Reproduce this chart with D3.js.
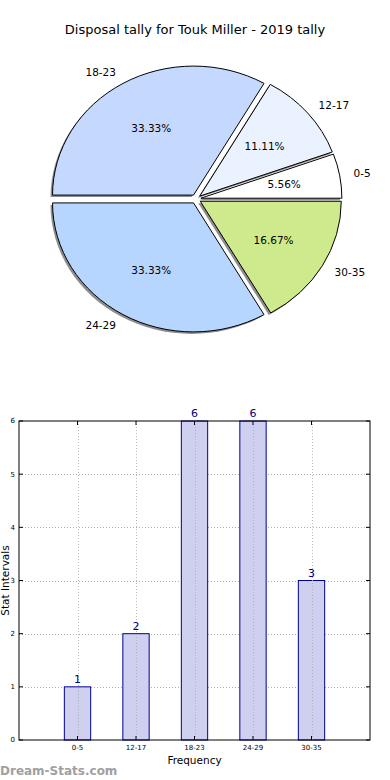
<!DOCTYPE html>
<html>
<head>
<meta charset="utf-8">
<script src="https://cdn.jsdelivr.net/npm/d3@7"></script>
<style>
  body { margin: 0; background: #fff; }
  svg { display: block; font-family: "DejaVu Sans", sans-serif; }
</style>
</head>
<body>
<script>
// Chart data
const title = "Disposal tally for Touk Miller - 2019 tally";
const categories = ["0-5", "12-17", "18-23", "24-29", "30-35"];
const counts = [1, 2, 6, 6, 3];
const sliceColors = ["#ffffff", "#eaf2ff", "#c5d9ff", "#b6d6ff", "#ceea8c"];
const yTicks = [0, 1, 2, 3, 4, 5, 6];

const width = 390, height = 780;

const svg = d3.select("body").append("svg")
    .attr("width", width)
    .attr("height", height);

svg.append("text")
    .attr("x", 195)
    .attr("y", 34)
    .attr("text-anchor", "middle")
    .attr("font-size", "13px")
    .text(title);

// ---- pie ----
const cx = 196, cy = 199;
const rx = 141, ry = 129;   // axes aspect squashes the pie a little
const explode = 0.035;
const total = d3.sum(counts);

// matplotlib starts at 3 o'clock and goes counter-clockwise
const pie = d3.pie().sort(null)
    .startAngle(Math.PI / 2)
    .endAngle(Math.PI / 2 - 2 * Math.PI);
const arcs = pie(counts);
const arcGen = d3.arc().innerRadius(0).outerRadius(1);

function dir(d) {
    const a = (d.startAngle + d.endAngle) / 2;
    return [Math.sin(a), -Math.cos(a)];
}

const pieG = svg.append("g");

// shadows first, under all wedges
pieG.append("g")
    .selectAll("path")
    .data(arcs)
    .join("path")
    .attr("transform", d => {
        const [ux, uy] = dir(d);
        return `translate(${cx + ux * rx * explode - 2},${cy + uy * ry * explode + 2}) scale(${rx},${ry})`;
    })
    .attr("d", arcGen)
    .attr("fill", "#707070")
    .attr("fill-opacity", 0.8);

pieG.append("g")
    .selectAll("path")
    .data(arcs)
    .join("path")
    .attr("transform", d => {
        const [ux, uy] = dir(d);
        return `translate(${cx + ux * rx * explode},${cy + uy * ry * explode}) scale(${rx},${ry})`;
    })
    .attr("d", arcGen)
    .attr("fill", (d, i) => sliceColors[i])
    .attr("stroke", "#000")
    .attr("stroke-width", 1)
    .attr("vector-effect", "non-scaling-stroke")
    .attr("stroke-linejoin", "round");

// percentage labels
pieG.append("g")
    .selectAll("text")
    .data(arcs)
    .join("text")
    .attr("x", d => cx + dir(d)[0] * rx * (0.6 + explode))
    .attr("y", d => cy + dir(d)[1] * ry * (0.6 + explode))
    .attr("dy", "0.35em")
    .attr("text-anchor", "middle")
    .attr("font-size", "10.5px")
    .text(d => (d.data / total * 100).toFixed(2) + "%");

// category labels
pieG.append("g")
    .selectAll("text")
    .data(arcs)
    .join("text")
    .attr("x", d => cx + dir(d)[0] * rx * (1.1 + explode))
    .attr("y", d => cy + dir(d)[1] * ry * (1.1 + explode))
    .attr("dy", "0.35em")
    .attr("text-anchor", d => dir(d)[0] < 0 ? "end" : "start")
    .attr("font-size", "10.5px")
    .text((d, i) => categories[i]);

// ---- bar chart ----
const plotLeft = 19, plotRight = 370, plotTop = 421, plotBottom = 740;
const x = d3.scaleLinear().domain([-1, categories.length]).range([plotLeft, plotRight]);
const y = d3.scaleLinear().domain([0, 6]).range([plotBottom, plotTop]);
const barW = 0.45;

const barG = svg.append("g");

// horizontal grid
barG.append("g")
    .selectAll("line")
    .data(yTicks.slice(1, -1))
    .join("line")
    .attr("x1", plotLeft).attr("x2", plotRight)
    .attr("y1", d => Math.round(y(d)) + 0.5).attr("y2", d => Math.round(y(d)) + 0.5)
    .attr("stroke", "#b0b0b0")
    .attr("stroke-dasharray", "1,2");

// bars
barG.append("g")
    .selectAll("rect")
    .data(counts)
    .join("rect")
    .attr("x", (d, i) => x(i - barW / 2))
    .attr("width", x(barW) - x(0))
    .attr("y", d => y(d))
    .attr("height", d => y(0) - y(d))
    .attr("fill", "#ccccee")
    .attr("fill-opacity", 0.95)
    .attr("stroke", "#000099")
    .attr("stroke-width", 1);

// vertical grid drawn over the bars
barG.append("g")
    .selectAll("line")
    .data(categories)
    .join("line")
    .attr("x1", (d, i) => Math.round(x(i)) + 0.5).attr("x2", (d, i) => Math.round(x(i)) + 0.5)
    .attr("y1", plotTop).attr("y2", plotBottom)
    .attr("stroke", "#a8a8a8")
    .attr("stroke-opacity", 0.8)
    .attr("stroke-dasharray", "1,2");

// value labels
barG.append("g")
    .selectAll("text")
    .data(counts)
    .join("text")
    .attr("x", (d, i) => x(i))
    .attr("y", d => y(d) - 4)
    .attr("text-anchor", "middle")
    .attr("font-size", "11px")
    .attr("fill", "#000080")
    .text(d => d);

// frame
barG.append("rect")
    .attr("x", plotLeft).attr("y", plotTop)
    .attr("width", plotRight - plotLeft).attr("height", plotBottom - plotTop)
    .attr("fill", "none")
    .attr("stroke", "#000")
    .attr("stroke-width", 1);

// inward ticks
const tickG = barG.append("g").attr("stroke", "#000");
yTicks.forEach(t => {
    tickG.append("line").attr("x1", plotLeft).attr("x2", plotLeft + 4).attr("y1", y(t)).attr("y2", y(t));
    tickG.append("line").attr("x1", plotRight - 4).attr("x2", plotRight).attr("y1", y(t)).attr("y2", y(t));
});
categories.forEach((c, i) => {
    tickG.append("line").attr("x1", x(i)).attr("x2", x(i)).attr("y1", plotBottom).attr("y2", plotBottom - 4);
    tickG.append("line").attr("x1", x(i)).attr("x2", x(i)).attr("y1", plotTop).attr("y2", plotTop + 4);
});

// tick labels
barG.append("g")
    .selectAll("text")
    .data(yTicks)
    .join("text")
    .attr("x", plotLeft - 4)
    .attr("y", d => y(d))
    .attr("dy", "0.35em")
    .attr("text-anchor", "end")
    .attr("font-size", "7px")
    .text(d => d);

barG.append("g")
    .selectAll("text")
    .data(categories)
    .join("text")
    .attr("x", (d, i) => x(i))
    .attr("y", plotBottom + 10)
    .attr("text-anchor", "middle")
    .attr("font-size", "7px")
    .text(d => d);

svg.append("text")
    .attr("x", (plotLeft + plotRight) / 2)
    .attr("y", 764)
    .attr("text-anchor", "middle")
    .attr("font-size", "10.5px")
    .text("Frequency");

svg.append("text")
    .attr("transform", `translate(9,${(plotTop + plotBottom) / 2}) rotate(-90)`)
    .attr("text-anchor", "middle")
    .attr("font-size", "10.5px")
    .text("Stat Intervals");

svg.append("text")
    .attr("x", 0)
    .attr("y", 775)
    .attr("font-size", "12px")
    .attr("font-weight", "bold")
    .attr("fill", "#a0a0a0")
    .text("Dream-Stats.com");
</script>
</body>
</html>
